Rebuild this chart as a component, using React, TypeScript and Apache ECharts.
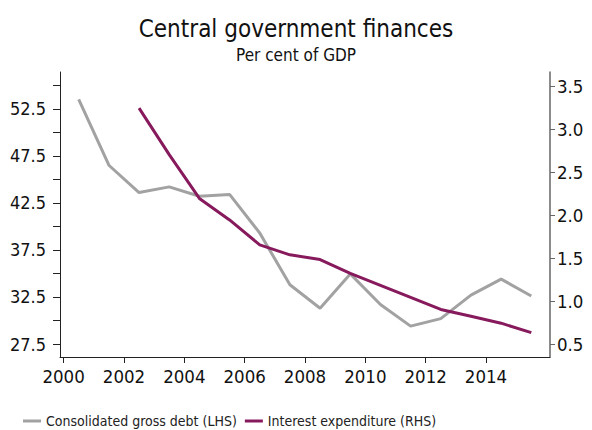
import React, { useEffect, useRef } from "react";
import * as echarts from "echarts";

const years = [2000, 2001, 2002, 2003, 2004, 2005, 2006, 2007, 2008, 2009, 2010, 2011, 2012, 2013, 2014, 2015];
const debt = [53.5, 46.5, 43.6, 44.2, 43.2, 43.4, 39.3, 33.8, 31.3, 34.95, 31.7, 29.4, 30.2, 32.7, 34.4, 32.6];
const interestYears = [2002, 2003, 2004, 2005, 2006, 2007, 2008, 2009, 2010, 2011, 2012, 2013, 2014, 2015];
const interest = [3.25, 2.71, 2.2, 1.95, 1.66, 1.545, 1.49, 1.33, 1.19, 1.05, 0.91, 0.83, 0.75, 0.64];
const xTicks = [2000, 2002, 2004, 2006, 2008, 2010, 2012, 2014];
const leftTicks = [27.5, 30, 32.5, 35, 37.5, 40, 42.5, 45, 47.5, 50, 52.5, 55];
const leftLabels = [27.5, 32.5, 37.5, 42.5, 47.5, 52.5];
const rightTicks = [0.5, 1.0, 1.5, 2.0, 2.5, 3.0, 3.5];

const FONT = "'Liberation Sans Narrow', 'DejaVu Sans Condensed', 'Open Sans', sans-serif";

export default function App() {
  const ref = useRef<HTMLDivElement>(null);
  useEffect(() => {
    if (!ref.current) return;
    const chart = echarts.init(ref.current, undefined, { renderer: "svg" });
    chart.setOption({
      animation: false,
      backgroundColor: "#ffffff",
      title: {
        text: "Central government finances",
        subtext: "Per cent of GDP",
        left: "center",
        top: 12,
        itemGap: 5,
        textStyle: { fontFamily: FONT, fontSize: 24, fontWeight: "normal", color: "#111" },
        subtextStyle: { fontFamily: FONT, fontSize: 17, color: "#111" },
      },
      legend: {
        left: 18,
        top: 409,
        icon: "rect",
        itemWidth: 18,
        itemHeight: 3,
        itemGap: 8,
        textStyle: { fontFamily: FONT, fontSize: 14, color: "#222" },
        data: ["Consolidated gross debt (LHS)", "Interest expenditure (RHS)"],
      },
      grid: { left: 60, right: 42, top: 72, bottom: 73, containLabel: false },
      xAxis: {
        type: "value",
        min: 1999.88,
        max: 2016.12,
        splitLine: { show: false },
        axisLine: { lineStyle: { color: "#222", width: 1 } },
        axisTick: { customValues: xTicks, length: 6, lineStyle: { color: "#222" } },
        axisLabel: {
          customValues: xTicks,
          fontFamily: FONT,
          fontSize: 18.5,
          color: "#111",
          margin: 10,
          formatter: (v: number) => String(Math.round(v)),
        },
      },
      yAxis: [
        {
          type: "value",
          position: "left",
          min: 26.12,
          max: 56.41,
          splitLine: { show: false },
          axisLine: { show: true, lineStyle: { color: "#222", width: 1 } },
          axisTick: { show: true, customValues: leftTicks, length: 7, lineStyle: { color: "#222" } },
          axisLabel: {
            customValues: leftLabels,
            fontFamily: FONT,
            fontSize: 18,
            color: "#111",
            margin: 14,
            formatter: (v: number) => v.toFixed(1),
          },
        },
        {
          type: "value",
          position: "right",
          min: 0.357,
          max: 3.67,
          splitLine: { show: false },
          axisLine: { show: true, lineStyle: { color: "#666", width: 1.5 } },
          axisTick: { show: true, customValues: rightTicks, length: 5, lineStyle: { color: "#666" } },
          axisLabel: {
            customValues: rightTicks,
            fontFamily: FONT,
            fontSize: 18.5,
            color: "#111",
            margin: 7,
            formatter: (v: number) => v.toFixed(1),
          },
        },
      ],
      series: [
        {
          name: "Consolidated gross debt (LHS)",
          type: "line",
          yAxisIndex: 0,
          showSymbol: false,
          symbol: "none",
          color: "#a2a2a2",
          lineStyle: { width: 3, color: "#a2a2a2" },
          data: years.map((y, i) => [y + 0.5, debt[i]]),
        },
        {
          name: "Interest expenditure (RHS)",
          type: "line",
          yAxisIndex: 1,
          showSymbol: false,
          symbol: "none",
          color: "#871a5d",
          lineStyle: { width: 3, color: "#871a5d" },
          data: interestYears.map((y, i) => [y + 0.5, interest[i]]),
        },
      ],
    });
    return () => chart.dispose();
  }, []);
  return <div ref={ref} style={{ width: 592, height: 430, position: "absolute", left: 0, top: 0 }} />;
}
